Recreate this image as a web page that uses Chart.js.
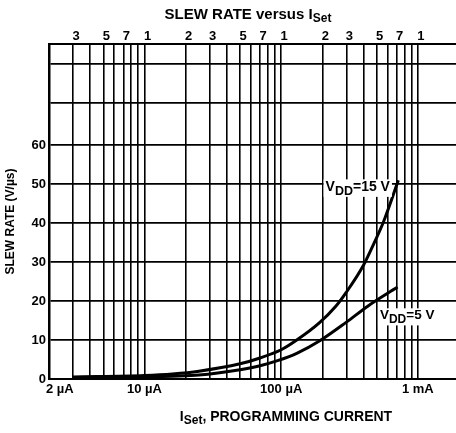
<!DOCTYPE html>
<html>
<head>
<meta charset="utf-8">
<script src="https://cdn.jsdelivr.net/npm/chart.js@4/dist/chart.umd.min.js"></script>
<style>
html,body{margin:0;padding:0;overflow:hidden;background:#fff;width:456px;height:433px}
#wrap{position:relative;width:466px;height:433px}
</style>
</head>
<body>
<div id="wrap"><canvas id="c" width="466" height="433"></canvas></div>
<script>
// ---- data (I_Set in µA, slew rate in V/µs) ----
const currentUA15 = [3, 10, 16, 25, 50, 70, 100, 130, 190, 250, 300, 400, 480, 560, 720];
const slew15      = [0.5, 0.9, 1.3, 2.0, 3.9, 5.4, 7.5, 10, 14.4, 18.6, 22.3, 29.2, 35, 40.3, 51];
const currentUA5  = [3, 10, 16, 25, 50, 70, 94, 130, 193, 300, 430, 710];
const slew5       = [0.3, 0.5, 0.7, 1.0, 2.4, 3.4, 4.7, 6.6, 9.9, 14.6, 18.7, 23.6];

const xGridUA = [2,3,4,5,6,7,8,9,10,20,30,40,50,60,70,80,90,100,200,300,400,500,600,700,800,900,1000];
const xBottomLabels = {2: '\u2007\u2007\u20072 \u00b5A', 10: '10 \u00b5A', 100: '100 \u00b5A', 1000: '1 mA'};
const xTopTicksUA = [3,5,7,10,20,30,50,70,100,200,300,500,700,1000];
const xTopLabels  = ['3','5','7','1','2','3','5','7','1','2','3','5','7','1'];
const yGrid   = [0,10,20,30,40,50,60,71,81];
const yLabels = [0,10,20,30,40,50,60];

const titleParts  = [{t:'SLEW RATE versus I'},{t:'Set',sub:true}];
const xTitleParts = [{t:'I'},{t:'Set',sub:true},{t:', PROGRAMMING CURRENT'}];
const label15Parts = [{t:'V'},{t:'DD',sub:true},{t:'=15 V'}];
const label5Parts  = [{t:'V'},{t:'DD',sub:true},{t:'=5 V'}];
const yTitle = 'SLEW RATE (V/\u00b5s)';

const FAMILY = '"Liberation Sans", Arial, Helvetica, sans-serif';

function drawParts(ctx, parts, x, baseline, align, size, subSize, subDy, bg) {
  ctx.save();
  const fm = s => `bold ${s}px ${FAMILY}`;
  const widths = parts.map(p => { ctx.font = fm(p.sub ? subSize : size); return ctx.measureText(p.t).width; });
  const total = widths.reduce((a, b) => a + b, 0);
  let sx = align === 'center' ? x - total / 2 : (align === 'right' ? x - total : x);
  if (bg) {
    ctx.fillStyle = '#fff';
    ctx.fillRect(sx - 2, baseline - size * 0.82, total + 4, size * 0.82 + subDy + 2);
  }
  ctx.fillStyle = '#000';
  ctx.textBaseline = 'alphabetic';
  ctx.textAlign = 'left';
  parts.forEach((p, i) => {
    ctx.font = fm(p.sub ? subSize : size);
    ctx.fillText(p.t, sx, baseline + (p.sub ? subDy : 0));
    sx += widths[i];
  });
  ctx.restore();
}

const richText = {
  id: 'richText',
  afterDraw(chart) {
    const {ctx, scales: {x, y}} = chart;
    drawParts(ctx, titleParts, 248, 19, 'center', 15, 12, 3, false);
    drawParts(ctx, xTitleParts, 286, 421, 'center', 14, 12, 3, false);
    drawParts(ctx, label15Parts, x.getPixelForValue(625), y.getPixelForValue(48.3), 'right', 14, 12.5, 4, true);
    drawParts(ctx, label5Parts, x.getPixelForValue(528), y.getPixelForValue(15.3), 'left', 13.5, 12, 4, true);
  }
};

const tickFont = {family: FAMILY, size: 13, weight: 'bold'};

new Chart(document.getElementById('c'), {
  type: 'line',
  data: {
    datasets: [
      {
        label: 'VDD = 15 V',
        data: currentUA15.map((v, i) => ({x: v, y: slew15[i]})),
        borderColor: '#000', borderWidth: 3, pointRadius: 0,
        cubicInterpolationMode: 'monotone', fill: false,
        xAxisID: 'x', yAxisID: 'y'
      },
      {
        label: 'VDD = 5 V',
        data: currentUA5.map((v, i) => ({x: v, y: slew5[i]})),
        borderColor: '#000', borderWidth: 3, pointRadius: 0,
        cubicInterpolationMode: 'monotone', fill: false,
        xAxisID: 'x', yAxisID: 'y'
      }
    ]
  },
  options: {
    responsive: false,
    animation: false,
    devicePixelRatio: 1,
    layout: {padding: {left: 0, right: 7, top: 0, bottom: 0}},
    plugins: {legend: {display: false}, tooltip: {enabled: false}, title: {display: false}},
    scales: {
      x: {
        type: 'logarithmic', position: 'bottom', min: 2, max: 2000,
        afterBuildTicks: s => { s.ticks = xGridUA.map(v => ({value: v})); },
        afterFit: s => { s.height = 54; },
        ticks: {
          autoSkip: false, maxRotation: 0, minRotation: 0, padding: 3, color: '#000', font: tickFont,
          callback: v => xBottomLabels[v] || ''
        },
        grid: {color: '#000', lineWidth: 1.6, drawTicks: false},
        border: {display: true, color: '#000', width: 2}
      },
      x2: {
        type: 'logarithmic', position: 'top', min: 2, max: 2000,
        afterBuildTicks: s => { s.ticks = xTopTicksUA.map(v => ({value: v})); },
        afterFit: s => { s.height = 44; },
        ticks: {
          autoSkip: false, maxRotation: 0, minRotation: 0, padding: 0, labelOffset: 3, color: '#000', font: tickFont,
          callback: (v, i) => xTopLabels[i]
        },
        grid: {display: false, drawTicks: false},
        border: {display: true, color: '#000', width: 2}
      },
      y: {
        type: 'linear', position: 'left', min: 0, max: 86,
        afterBuildTicks: s => { s.ticks = yGrid.map(v => ({value: v})); },
        afterFit: s => { s.width = 49; },
        ticks: {
          padding: 3, color: '#000', font: tickFont,
          callback: v => yLabels.includes(v) ? String(v) : ''
        },
        grid: {color: '#000', lineWidth: 1.8, drawTicks: false},
        border: {display: true, color: '#000', width: 2.5},
        title: {
          display: true, text: yTitle + '\u2007\u2007\u2007', color: '#000',
          font: {family: FAMILY, size: 12, weight: 'bold'}, padding: {top: 3, bottom: 0}
        }
      }
    }
  },
  plugins: [richText]
});
</script>
</body>
</html>
